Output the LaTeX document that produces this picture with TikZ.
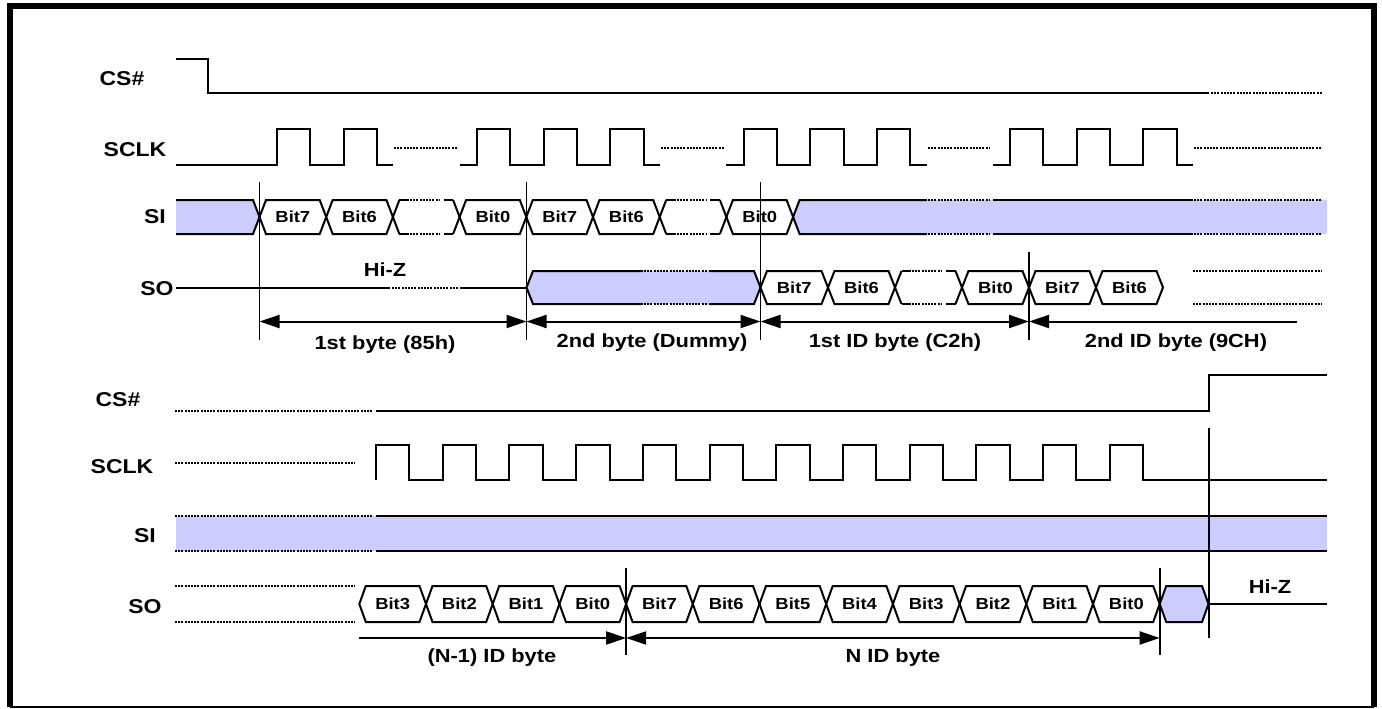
\documentclass[tikz,border=0pt]{standalone}
\usepackage{fontspec}
\setmainfont{Liberation Sans}
\newfontfamily\labfont[FakeStretch=1.15]{Liberation Sans}
\usetikzlibrary{arrows.meta}
\definecolor{band}{HTML}{CCCCFF}
\begin{document}
\begin{tikzpicture}[x=1pt,y=-1pt,
  sig/.style={line width=2pt,line join=miter},
  dotl/.style={line width=2pt,dash pattern=on 2pt off 1.2pt},
  vline/.style={line width=1.6pt},
  dimarrow/.style={line width=2pt},
  lbl/.style={font=\labfont\bfseries\fontsize{20}{20}\selectfont,inner sep=0pt},
  bitlbl/.style={font=\labfont\bfseries\fontsize{16}{16}\selectfont,inner sep=0pt},
  bytelbl/.style={font=\labfont\bfseries\fontsize{19}{19}\selectfont,inner sep=0pt},
  tip/.tip={Triangle[length=20pt,width=13pt]}
]
\useasboundingbox (0,0) rectangle (1382,709);
% frame
\draw[line width=6pt] (9.5,707) -- (9.5,6.5) -- (1373.5,6.5) -- (1373.5,707);
\draw[line width=1.5pt] (9.5,707) -- (1373.5,707);

% ---------- macros ----------
% \cell{x1}{x2}{ytop}{ybot}{text}
\newcommand\cellhex[5]{%
  \draw[sig] (#1,{(#3+#4)/2}) -- ({#1+6.5},#3) -- ({#2-6.5},#3) -- (#2,{(#3+#4)/2}) -- ({#2-6.5},#4) -- ({#1+6.5},#4) -- cycle;
  \node[bitlbl] at ({(#1+#2)/2},{(#3+#4)/2}) {#5};}
\newcommand\gapcell[4]{%
  \draw[sig] ({#1+6.5},#3) -- (#1,{(#3+#4)/2}) -- ({#1+6.5},#4);
  \draw[sig] ({#2-6.5},#3) -- (#2,{(#3+#4)/2}) -- ({#2-6.5},#4);
  \draw[sig] ({#1+6.5},#3) -- ({#1+16},#3) ({#1+6.5},#4) -- ({#1+16},#4);
  \draw[dotl] ({#1+17},#3) -- ({#2-20},#3) ({#1+17},#4) -- ({#2-20},#4);
  \draw[sig] ({#2-16},#3) -- ({#2-6.5},#3) ({#2-16},#4) -- ({#2-6.5},#4);}

% ---------- signal names ----------
\node[lbl] (cs1) at (122,79) {CS\#};
\node[lbl] (sclk1) at (135,150) {SCLK};
\node[lbl] (si1) at (155,217) {SI};
\node[lbl] (so1) at (157,289) {SO};
\node[lbl] (cs2) at (118,400) {CS\#};
\node[lbl] (sclk2) at (122,467) {SCLK};
\node[lbl] (si2) at (145,536) {SI};
\node[lbl] (so2) at (145,607) {SO};

% ================= TOP =================
% CS#
\draw[sig] (176,59) -- (208,59) -- (208,93) -- (1209,93);
\draw[dotl] (1211,93) -- (1322,93);
% SCLK
\draw[sig] (176,165) foreach \x in {277,343.65} { -- (\x,165) -- (\x,129) -- (\x+33.3,129) -- (\x+33.3,165) } -- (393,165);
\draw[dotl] (394,148) -- (458,148);
\draw[sig] (460,165) foreach \x in {476.95,543.6,610.25} { -- (\x,165) -- (\x,129) -- (\x+33.3,129) -- (\x+33.3,165) } -- (660,165);
\draw[dotl] (661,148) -- (724,148);
\draw[sig] (726,165) foreach \x in {743.55,810.2,876.85} { -- (\x,165) -- (\x,129) -- (\x+33.3,129) -- (\x+33.3,165) } -- (927,165);
\draw[dotl] (928,148) -- (990,148);
\draw[sig] (993,165) foreach \x in {1010.15,1076.8,1143.45} { -- (\x,165) -- (\x,129) -- (\x+33.3,129) -- (\x+33.3,165) } -- (1193,165);
\draw[dotl] (1194,148) -- (1322,148);

% SI top
\fill[band] (176,200) -- (253,200) -- (259.5,217) -- (253,234) -- (176,234) -- cycle;
\draw[sig] (176,200) -- (253,200) -- (259.5,217) -- (253,234) -- (176,234);
\cellhex{259.5}{326.2}{200}{234}{Bit7}
\cellhex{326.2}{392.9}{200}{234}{Bit6}
\gapcell{392.9}{459.6}{200}{234}
\cellhex{459.6}{526.3}{200}{234}{Bit0}
\cellhex{526.3}{593}{200}{234}{Bit7}
\cellhex{593}{659.7}{200}{234}{Bit6}
\gapcell{659.7}{726.4}{200}{234}
\cellhex{726.4}{793.1}{200}{234}{Bit0}
\fill[band] (793.1,217) -- (799.6,200) -- (1327,200) -- (1327,234) -- (799.6,234) -- cycle;
\draw[sig] (927,200) -- (799.6,200) -- (793.1,217) -- (799.6,234) -- (927,234);
\draw[sig] (993,200) -- (1193,200) (993,234) -- (1193,234);
\draw[dotl] (928,200) -- (990,200) (928,234) -- (990,234);
\draw[dotl] (1194,200) -- (1322,200) (1194,234) -- (1322,234);

% SO top
\draw[sig] (176,287.5) -- (390,287.5);
\draw[dotl] (392,287.5) -- (458,287.5);
\draw[sig] (460,287.5) -- (526.5,287.5);
\node[bytelbl] (hiz1) at (385,270) {Hi-Z};
\fill[band] (526.5,287.5) -- (533,271) -- (754,271) -- (760.5,287.5) -- (754,304) -- (533,304) -- cycle;
\draw[sig] (643,271) -- (533,271) -- (526.5,287.5) -- (533,304) -- (643,304);
\draw[sig] (709,271) -- (754,271) -- (760.5,287.5) -- (754,304) -- (709,304);
\draw[dotl] (644,271) -- (708,271) (644,304) -- (708,304);
\cellhex{760.5}{828}{271}{304}{Bit7}
\cellhex{828}{895}{271}{304}{Bit6}
\gapcell{895}{962}{271}{304}
\cellhex{962}{1029}{271}{304}{Bit0}
\cellhex{1029}{1096}{271}{304}{Bit7}
\cellhex{1096}{1163}{271}{304}{Bit6}
\draw[dotl] (1193,271) -- (1322,271) (1193,304) -- (1322,304);

% markers top
\coordinate (ta) at (259.5,321.5);
\coordinate (tb) at (526.5,321.5);
\coordinate (tc) at (760.5,321.5);
\coordinate (td) at (1029,321.5);
\coordinate (te) at (1297,321.5);
\draw[vline] (259.5,182) -- (259.5,340);
\draw[vline] (526.5,182) -- (526.5,340);
\draw[vline] (760.5,182) -- (760.5,340);
\draw[vline] (1029,252) -- (1029,340);
\draw[dimarrow,tip-tip] (ta) -- (tb);
\draw[dimarrow,tip-tip] (tb) -- (tc);
\draw[dimarrow,tip-tip] (tc) -- (td);
\draw[dimarrow,tip-] (td) -- (te);
\node[bytelbl] (b1) at (385,345) {1st byte (85h)};
\node[bytelbl] (b2) at (652,343) {2nd byte (Dummy)};
\node[bytelbl] (b3) at (895,343) {1st ID byte (C2h)};
\node[bytelbl] (b4) at (1176,343) {2nd ID byte (9CH)};

% ================= BOTTOM =================
% CS#
\draw[dotl] (175,411) -- (373,411);
\draw[sig] (376,411) -- (1209,411) -- (1209,375) -- (1327,375);
% SCLK
\draw[dotl] (175,463) -- (355,463);
\draw[sig] (376,480) foreach \x in {376,442.7,509.4,576.1,642.8,709.5,776.2,842.9,909.6,976.3,1043,1109.7} { -- (\x,480) -- (\x,445) -- (\x+33.4,445) -- (\x+33.4,480) } -- (1327,480);
% SI
\fill[band] (176,516) rectangle (1327,551);
\draw[dotl] (175,516) -- (373,516) (175,551) -- (373,551);
\draw[sig] (376,516) -- (1327,516) (376,551) -- (1327,551);
% SO
\draw[dotl] (175,586) -- (355,586) (175,622) -- (355,622);
\cellhex{359.3}{426}{586}{622}{Bit3}
\cellhex{426}{492.7}{586}{622}{Bit2}
\cellhex{492.7}{559.4}{586}{622}{Bit1}
\cellhex{559.4}{626.1}{586}{622}{Bit0}
\cellhex{626.1}{692.8}{586}{622}{Bit7}
\cellhex{692.8}{759.5}{586}{622}{Bit6}
\cellhex{759.5}{826.2}{586}{622}{Bit5}
\cellhex{826.2}{892.9}{586}{622}{Bit4}
\cellhex{892.9}{959.6}{586}{622}{Bit3}
\cellhex{959.6}{1026.3}{586}{622}{Bit2}
\cellhex{1026.3}{1093}{586}{622}{Bit1}
\cellhex{1093}{1159.7}{586}{622}{Bit0}
\filldraw[sig,fill=band] (1159.7,604) -- (1166.2,586) -- (1202,586) -- (1208.5,604) -- (1202,622) -- (1166.2,622) -- cycle;
\draw[sig] (1208.5,604) -- (1327,604);
\node[bytelbl] (hiz2) at (1270,587) {Hi-Z};

% markers bottom
\coordinate (ba) at (359.3,638);
\coordinate (bb) at (626.1,638);
\coordinate (bc) at (1159.7,638);
\draw[vline] (626.1,568) -- (626.1,655);
\draw[vline] (1159.7,568) -- (1159.7,655);
\draw[vline] (1209,428) -- (1209,638);
\draw[dimarrow,-tip] (ba) -- (bb);
\draw[dimarrow,tip-tip] (bb) -- (bc);
\node[bytelbl] (b5) at (492,658) {(N-1) ID byte};
\node[bytelbl] (b6) at (893,658) {N ID byte};
\end{tikzpicture}
\end{document}
